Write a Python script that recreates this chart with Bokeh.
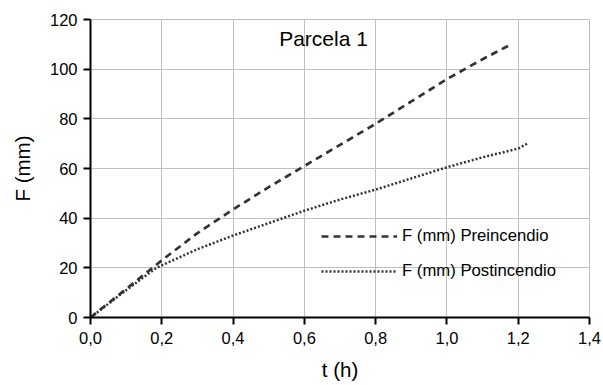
from bokeh.plotting import figure
from bokeh.models import Range1d, FixedTicker, CustomJSTickFormatter, Legend, LegendItem, Label
from bokeh.embed import file_html
from bokeh.resources import INLINE

# data
t_pre = [0.0, 0.1, 0.2, 0.3, 0.4, 0.5, 0.6, 0.7, 0.8, 0.9, 1.0, 1.1, 1.18]
f_pre = [0.0, 11.5, 23.0, 34.0, 43.5, 52.5, 61.0, 69.5, 78.0, 87.0, 96.0, 104.0, 110.0]

t_post = [0.0, 0.1, 0.18, 0.2, 0.3, 0.4, 0.5, 0.6, 0.7, 0.8, 0.9, 1.0, 1.1, 1.2, 1.225]
f_post = [0.0, 11.0, 19.5, 21.0, 27.5, 33.0, 38.0, 43.0, 47.5, 51.5, 56.0, 60.5, 64.5, 68.0, 70.0]

x_ticks = [0.0, 0.2, 0.4, 0.6, 0.8, 1.0, 1.2, 1.4]
y_ticks = [0, 20, 40, 60, 80, 100, 120]

title_text = "Parcela 1"
name_pre = "F (mm) Preincendio"
name_post = "F (mm) Postincendio"

FONT = "Liberation Sans"
GRID = "#c0c0c0"
LINE = "#333333"

p = figure(width=603, height=385, output_backend="svg", toolbar_location=None,
           x_range=Range1d(0, 1.4), y_range=Range1d(0, 120),
           min_border_left=90, min_border_right=14, min_border_top=19, min_border_bottom=68)

p.background_fill_color = "white"
p.border_fill_color = "white"
p.outline_line_color = GRID

p.xaxis.ticker = FixedTicker(ticks=x_ticks)
p.yaxis.ticker = FixedTicker(ticks=y_ticks)
p.xaxis.formatter = CustomJSTickFormatter(code="return tick.toFixed(1).replace('.', ',');")
p.yaxis.formatter = CustomJSTickFormatter(code="return tick.toFixed(0);")

for ax in (p.xaxis[0], p.yaxis[0]):
    ax.axis_line_color = "black"
    ax.axis_line_width = 2
    ax.major_tick_line_color = "black"
    ax.major_tick_line_width = 2
    ax.major_tick_out = 7
    ax.major_tick_in = 0
    ax.minor_tick_line_color = None
    ax.major_label_text_font = FONT
    ax.major_label_text_font_size = "16.5px"
    ax.major_label_text_color = "black"
    ax.axis_label_text_font = FONT
    ax.axis_label_text_font_size = "20.5px"
    ax.axis_label_text_font_style = "normal"
    ax.axis_label_text_color = "black"

p.xaxis.axis_label = "t (h)"
p.yaxis.axis_label = "F (mm)"
p.xaxis.major_label_standoff = 7
p.yaxis.major_label_standoff = 6
p.xaxis.axis_label_standoff = 11
p.yaxis.axis_label_standoff = 13

p.xgrid.grid_line_color = GRID
p.ygrid.grid_line_color = GRID
p.xgrid.grid_line_width = 1
p.ygrid.grid_line_width = 1

r_pre = p.line(t_pre, f_pre, line_color=LINE, line_width=2.7, line_dash="7 5")
r_post = p.line(t_post, f_post, line_color=LINE, line_width=2.5, line_dash="2 2")

legend = Legend(items=[LegendItem(label=name_pre, renderers=[r_pre]),
                       LegendItem(label=name_post, renderers=[r_post])],
                location=(231, 36), orientation="vertical")
legend.background_fill_alpha = 0
legend.border_line_alpha = 0
legend.padding = 0
legend.margin = 0
legend.spacing = 15
legend.glyph_width = 76
legend.glyph_height = 20
legend.label_height = 20
legend.label_standoff = 5
legend.label_text_font = FONT
legend.label_text_font_size = "16.7px"
legend.label_text_color = "black"
p.add_layout(legend, "center")

title = Label(x=233, y=279, x_units="screen", y_units="screen", text=title_text,
              text_font=FONT, text_font_size="21px", text_color="black",
              text_align="center", text_baseline="middle")
p.add_layout(title)

open("out.html", "w").write(file_html(p, INLINE))
